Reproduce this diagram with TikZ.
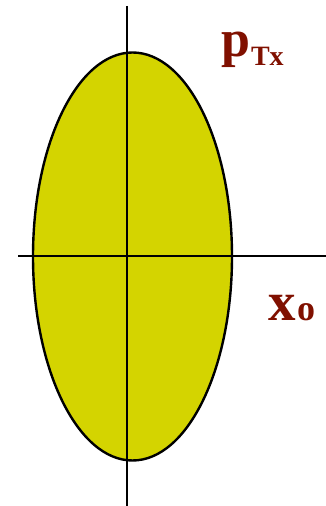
\documentclass[tikz,border=0pt]{standalone}
\usepackage{fontspec}
\setmainfont{Liberation Serif}
\definecolor{fillyel}{RGB}{212,212,0}
\definecolor{labred}{RGB}{128,16,0}
\tikzset{
  lab/.style={inner sep=0pt, outer sep=0pt, text=labred, font=\bfseries},
  axis/.style={line width=2.4pt, black},
}
\begin{document}
\begin{tikzpicture}[x=1pt,y=1pt]
\useasboundingbox (0,0) rectangle (326,506);
\fill[fillyel, draw=black, line width=2.4pt] (132.5,249.5) ellipse [x radius=99.5, y radius=204];
\coordinate (vt) at (127,500);
\coordinate (vb) at (127,0);
\coordinate (hl) at (18,250);
\coordinate (hr) at (326,250);
\draw[axis] (vt) -- (vb);
\draw[axis] (hl) -- (hr);
\node[lab, anchor=base west, font=\bfseries\fontsize{52}{52}\selectfont] (p) at (221,449) {p};
\node[lab, anchor=base west, font=\bfseries\fontsize{28}{28}\selectfont] (tx) at (251,440) {Tx};
\node[lab, anchor=base west, font=\bfseries\fontsize{55}{55}\selectfont] (x) at (268,185) {x};
\node[lab, anchor=base west, font=\bfseries\fontsize{36}{36}\selectfont] (o) at (297,185) {o};
\end{tikzpicture}
\end{document}
